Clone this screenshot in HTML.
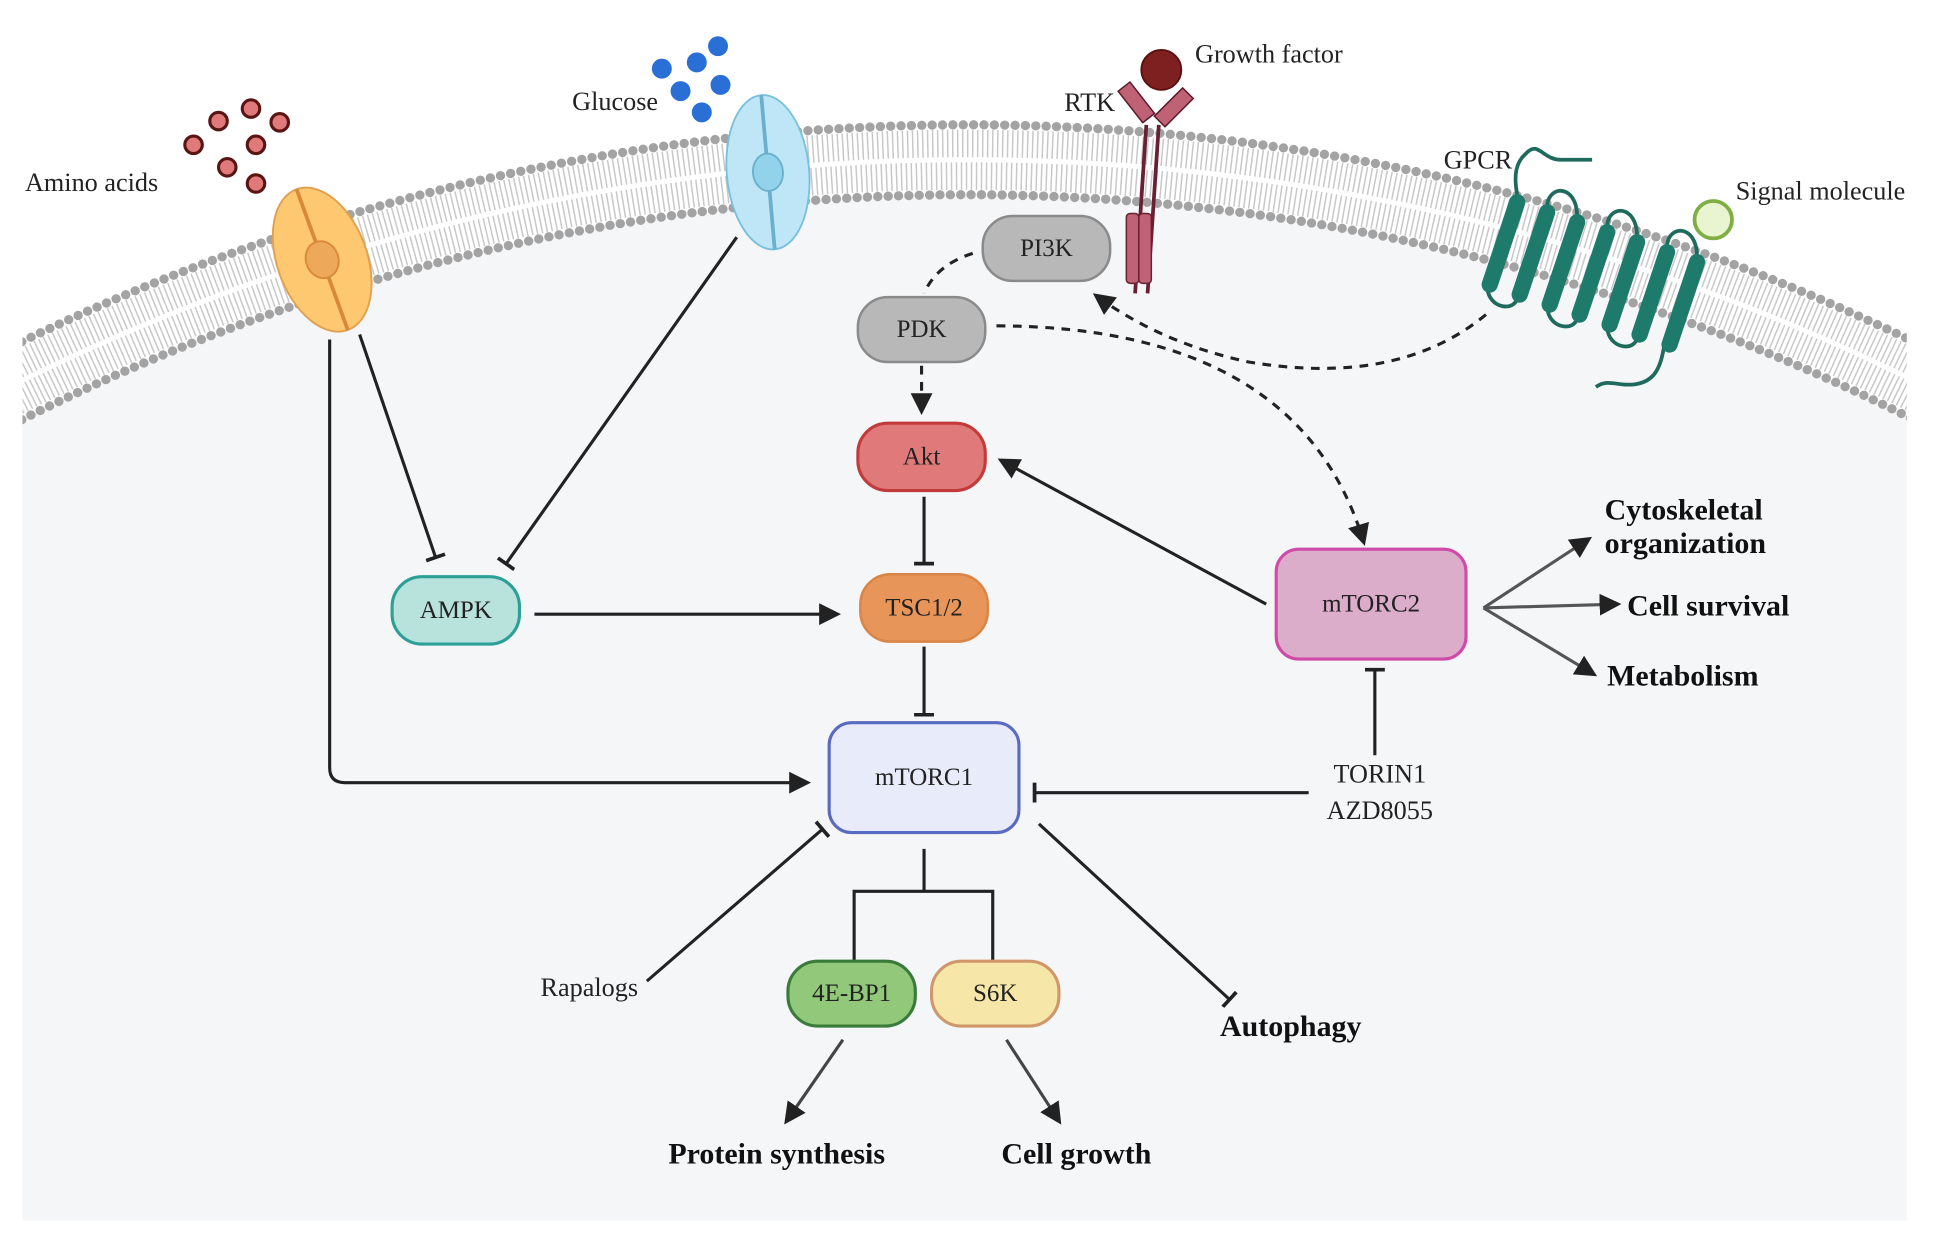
<!DOCTYPE html>
<html><head><meta charset="utf-8"><style>
html,body{margin:0;padding:0;background:#fff;width:1958px;height:1252px;overflow:hidden;}
svg{display:block;}
text{font-family:"Liberation Serif",serif;fill:#222;}
.b{font-weight:bold;font-size:24px;fill:#111;}
.n{font-size:20px;text-anchor:middle;dominant-baseline:central;}
.l{font-size:21px;}
</style></head><body>
<svg width="1958" height="1252" viewBox="0 0 1568 1003" preserveAspectRatio="none" xmlns="http://www.w3.org/2000/svg">
<defs>
<clipPath id="c"><rect x="18" y="0" width="1509" height="978"/></clipPath>
<marker id="a" viewBox="0 0 10 10" refX="8" refY="5" markerWidth="7" markerHeight="7" orient="auto"><path d="M0,0 L10,5 L0,10 z" fill="#222"/></marker>
<marker id="t" viewBox="0 0 4 16" refX="2" refY="8" markerWidth="4" markerHeight="16" markerUnits="userSpaceOnUse" orient="auto"><rect x="0" y="0" width="3" height="16" fill="#222"/></marker>
</defs>
<g clip-path="url(#c)">
<rect x="18" y="0" width="1509" height="978" fill="#fff"/>
<path d="M10,308.7 A1710 1710 0 0 1 1540,308.7 L1540,978 L10,978 Z" fill="#f5f6f8"/>
<path d="M10,308.7 A1710 1710 0 0 1 1540,308.7" fill="none" stroke="#fff" stroke-width="56"/>
<path d="M10,294.1 A1723 1723 0 0 1 1540,294.1" fill="none" stroke="#c8c8c8" stroke-width="22" stroke-dasharray="1.2 2.8"/>
<path d="M10,323.2 A1697 1697 0 0 1 1540,323.2" fill="none" stroke="#c8c8c8" stroke-width="22" stroke-dasharray="1.2 2.8"/>
<path d="M10,277.4 A1738 1738 0 0 1 1540,277.4" fill="none" stroke="#a3a3a3" stroke-width="7.5" stroke-linecap="round" stroke-dasharray="0 8.3"/>
<path d="M10,340 A1682 1682 0 0 1 1540,340" fill="none" stroke="#a3a3a3" stroke-width="7.5" stroke-linecap="round" stroke-dasharray="0 8.3"/>
</g>

<g fill="#e07a7a" stroke="#5a1414" stroke-width="2.5">
<circle cx="155" cy="116" r="7"/><circle cx="175" cy="97" r="7"/><circle cx="201" cy="87" r="7"/><circle cx="224" cy="98" r="7"/><circle cx="205" cy="116" r="7"/><circle cx="182" cy="134" r="7"/><circle cx="205" cy="147" r="7"/>
</g>
<g transform="translate(258,208) rotate(-20)">
<ellipse rx="36" ry="60" fill="#fdc870" stroke="#e0a050" stroke-width="1.5"/>
<line x1="0" y1="-60" x2="0" y2="60" stroke="#d9883a" stroke-width="3"/>
<ellipse rx="13" ry="15" fill="#eea85a" stroke="#d9883a" stroke-width="1.5"/>
</g>
<text class="l" x="20" y="153">Amino acids</text>

<g fill="#2a6fd6"><circle cx="575" cy="37" r="8"/><circle cx="558" cy="50" r="8"/><circle cx="530" cy="55" r="8"/><circle cx="577" cy="68" r="8"/><circle cx="545" cy="73" r="8"/><circle cx="562" cy="90" r="8"/></g>
<g transform="translate(615,138) rotate(-5)">
<ellipse rx="33" ry="62" fill="#bfe6f7" stroke="#7ac0dd" stroke-width="1.5"/>
<line x1="0" y1="-62" x2="0" y2="62" stroke="#6ab0cd" stroke-width="3"/>
<ellipse rx="12" ry="15" fill="#92d2ea" stroke="#6ab0cd" stroke-width="1.5"/>
</g>
<text class="l" x="527" y="88" text-anchor="end">Glucose</text>

<circle cx="930" cy="56" r="16" fill="#7f2020" stroke="#5a1010" stroke-width="1.5"/>
<g stroke="#5a1a2a" stroke-width="1.2" fill="#c06275">
<rect x="-6" y="-16" width="12" height="32" transform="translate(910,82) rotate(-38)"/>
<rect x="-6" y="-16" width="12" height="32" transform="translate(940,86) rotate(45)"/>
</g>
<line x1="918" y1="100" x2="909" y2="235" stroke="#6a2033" stroke-width="3"/>
<line x1="928" y1="100" x2="919" y2="235" stroke="#6a2033" stroke-width="3"/>
<rect x="902" y="171" width="10" height="56" rx="3" fill="#c06275" stroke="#6a2033" stroke-width="1.2"/>
<rect x="912" y="171" width="10" height="56" rx="3" fill="#c06275" stroke="#6a2033" stroke-width="1.2"/>
<text class="l" x="893" y="89" text-anchor="end">RTK</text>
<text class="l" x="957" y="50">Growth factor</text>

<g fill="none" stroke="#1e6a5c" stroke-width="3">
<path d="M1215,156 C1212,140 1214,130 1222,123 C1232,112 1235,128 1250,128 L1275,128"/>
<path d="M1239,164 C1241,148 1262,148 1263,172"/>
<path d="M1287,180 C1289,164 1310,164 1311,188"/>
<path d="M1335,196 C1337,180 1358,180 1359,204"/>
<path d="M1191,230 C1192,248 1214,250 1215,238"/>
<path d="M1239,246 C1240,264 1262,266 1263,254"/>
<path d="M1287,262 C1288,280 1310,282 1311,270"/>
<path d="M1333,275 C1330,295 1325,310 1300,308 C1290,307 1285,305 1278,310"/>
</g>
<g stroke="#1e7a6b" stroke-width="13" stroke-linecap="round">
<line x1="1215" y1="162" x2="1193" y2="228"/><line x1="1239" y1="170" x2="1217" y2="236"/>
<line x1="1263" y1="178" x2="1241" y2="244"/><line x1="1287" y1="186" x2="1265" y2="252"/>
<line x1="1311" y1="194" x2="1289" y2="260"/><line x1="1335" y1="202" x2="1313" y2="268"/>
<line x1="1359" y1="210" x2="1337" y2="276"/>
</g>
<circle cx="1372" cy="176" r="15" fill="#e8f5d0" stroke="#7fae45" stroke-width="3"/>
<text class="l" x="1211" y="135" text-anchor="end">GPCR</text>
<text class="l" x="1390" y="160">Signal molecule</text>

<g fill="none" stroke="#222" stroke-width="2.5">
<path d="M264,272 L264,615 Q264,627 276,627 L646,627" marker-end="url(#a)"/>
<line x1="288" y1="268" x2="349" y2="447" marker-end="url(#t)"/>
<line x1="590" y1="190" x2="405" y2="452" marker-end="url(#t)"/>
<line x1="428" y1="492" x2="670" y2="492" marker-end="url(#a)"/>
<line x1="740" y1="398" x2="740" y2="452" marker-end="url(#t)"/>
<line x1="740" y1="518" x2="740" y2="573" marker-end="url(#t)"/>
<line x1="1014" y1="484" x2="802" y2="369" marker-end="url(#a)"/>
<line x1="1101" y1="605" x2="1101" y2="536" marker-end="url(#t)"/>
<line x1="1048" y1="635" x2="828" y2="635" marker-end="url(#t)"/>
<line x1="518" y1="786" x2="659" y2="664" marker-end="url(#t)"/>
<line x1="832" y1="660" x2="985" y2="801" marker-end="url(#t)"/>
<path d="M740,680 L740,714 M684,770 L684,714 L795,714 L795,770"/>
<line x1="675" y1="833" x2="630" y2="898" stroke="#444" marker-end="url(#a)"/>
<line x1="806" y1="833" x2="848" y2="898" stroke="#444" marker-end="url(#a)"/>
<line x1="1188" y1="487" x2="1272" y2="432" stroke="#555" marker-end="url(#a)"/>
<line x1="1188" y1="487" x2="1295" y2="484" stroke="#555" marker-end="url(#a)"/>
<line x1="1188" y1="487" x2="1276" y2="540" stroke="#555" marker-end="url(#a)"/>
</g>
<g fill="none" stroke="#222" stroke-width="2.5" stroke-dasharray="7 6">
<path d="M779,203 Q750,212 740,235"/>
<line x1="738" y1="293" x2="738" y2="329" marker-end="url(#a)"/>
<path d="M798,261 Q1040,262 1092,434" marker-end="url(#a)"/>
<path d="M1190,252 Q1120,310 1000,290 Q930,275 878,237" marker-end="url(#a)"/>
</g>

<rect x="787" y="173" width="102" height="52" rx="24" fill="#b8b8b8" stroke="#8a8a8a" stroke-width="2"/>
<text class="n" x="838" y="199">PI3K</text>
<rect x="687" y="238" width="102" height="52" rx="24" fill="#b8b8b8" stroke="#8a8a8a" stroke-width="2"/>
<text class="n" x="738" y="264">PDK</text>
<rect x="687" y="339" width="102" height="54" rx="24" fill="#e07a7a" stroke="#c23a3a" stroke-width="2.5"/>
<text class="n" x="738" y="366">Akt</text>
<rect x="689" y="460" width="102" height="54" rx="24" fill="#e8955a" stroke="#d98545" stroke-width="2"/>
<text class="n" x="740" y="487">TSC1/2</text>
<rect x="314" y="462" width="102" height="54" rx="24" fill="#b8e2dc" stroke="#2aa096" stroke-width="2.5"/>
<text class="n" x="365" y="489">AMPK</text>
<rect x="664" y="579" width="152" height="88" rx="18" fill="#e8ecfa" stroke="#5a6ac0" stroke-width="2.5"/>
<text class="n" x="740" y="623">mTORC1</text>
<rect x="1022" y="440" width="152" height="88" rx="18" fill="#dcaccb" stroke="#d04aa8" stroke-width="2.5"/>
<text class="n" x="1098" y="484">mTORC2</text>
<rect x="631" y="770" width="102" height="52" rx="24" fill="#92c87a" stroke="#3a7a3a" stroke-width="2.5"/>
<text class="n" x="682" y="796">4E-BP1</text>
<rect x="746" y="770" width="102" height="52" rx="24" fill="#f6e6a8" stroke="#d0976a" stroke-width="2.5"/>
<text class="n" x="797" y="796">S6K</text>

<text class="l" x="1105" y="627" text-anchor="middle">TORIN1</text>
<text class="l" x="1105" y="656" text-anchor="middle">AZD8055</text>
<text class="l" x="511" y="798" text-anchor="end">Rapalogs</text>
<text class="b" x="977" y="830">Autophagy</text>
<text class="b" x="622" y="932" text-anchor="middle">Protein synthesis</text>
<text class="b" x="862" y="932" text-anchor="middle">Cell growth</text>
<text class="b" x="1285" y="416">Cytoskeletal</text>
<text class="b" x="1285" y="443">organization</text>
<text class="b" x="1303" y="493">Cell survival</text>
<text class="b" x="1287" y="549">Metabolism</text>
</svg>
</body></html>
